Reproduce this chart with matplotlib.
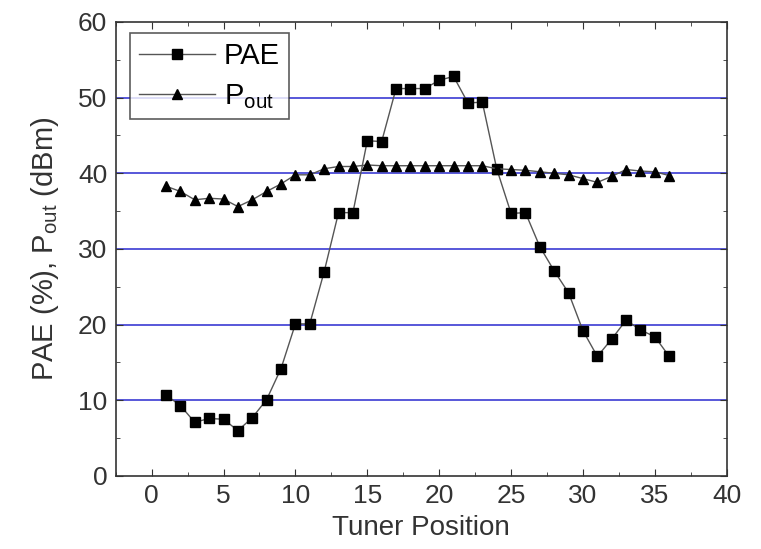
import matplotlib
matplotlib.use("Agg")
import matplotlib.pyplot as plt
from matplotlib.ticker import MultipleLocator

plt.rcParams["font.family"] = ["Liberation Sans", "DejaVu Sans"]
plt.rcParams["mathtext.default"] = "regular"

tuner_pos = list(range(1, 37))
pae = [10.7, 9.3, 7.1, 7.6, 7.5, 6.0, 7.7, 10.1, 14.2, 20.1,
       20.1, 27.0, 34.8, 34.8, 44.3, 44.2, 51.2, 51.2, 51.2, 52.3,
       52.8, 49.3, 49.4, 40.6, 34.7, 34.8, 30.3, 27.1, 24.2, 19.2,
       15.8, 18.1, 20.6, 19.3, 18.4, 15.8]
pout = [38.3, 37.6, 36.5, 36.7, 36.6, 35.6, 36.5, 37.6, 38.6, 39.8,
        39.8, 40.6, 40.9, 40.9, 41.1, 41.0, 41.0, 41.0, 41.0, 41.0,
        41.0, 41.0, 41.0, 40.6, 40.5, 40.4, 40.2, 40.0, 39.8, 39.3,
        38.8, 39.6, 40.5, 40.3, 40.2, 39.7]
grid_levels = [10, 20, 30, 40, 50]

fig = plt.figure(figsize=(7.61, 5.49), dpi=100)
ax = fig.add_axes([0.152, 0.133, 0.803, 0.827])

for g in grid_levels:
    ax.axhline(g, color="#2a2ad0", lw=1.1, zorder=1)

ax.plot(tuner_pos, pae, color="#555555", lw=1.0, marker="s", ms=7,
        mfc="black", mec="black", label="PAE", zorder=3)
ax.plot(tuner_pos, pout, color="#555555", lw=1.0, marker="^", ms=7.5,
        mfc="black", mec="black", label="P$_{out}$", zorder=3)

ax.set_xlim(-2.5, 40)
ax.set_ylim(0, 60)
ax.xaxis.set_major_locator(MultipleLocator(5))
ax.xaxis.set_minor_locator(MultipleLocator(2.5))
ax.yaxis.set_major_locator(MultipleLocator(10))
ax.yaxis.set_minor_locator(MultipleLocator(5))
ax.tick_params(which="both", direction="in", top=True, right=True,
               labelsize=19, color="#333333", labelcolor="#333333", pad=6)
ax.tick_params(which="major", length=5)
ax.tick_params(which="minor", length=3)
for sp in ax.spines.values():
    sp.set_color("#333333")
    sp.set_linewidth(1.2)

ax.set_xlabel("Tuner Position", fontsize=20, color="#333333", labelpad=5)
ax.set_ylabel("PAE (%), P$_{out}$ (dBm)", fontsize=21, color="#333333",
              labelpad=12)

leg = ax.legend(loc="upper left", numpoints=1, fontsize=21, frameon=True,
                fancybox=False, edgecolor="#333333", handlelength=2.6,
                handletextpad=0.3, borderpad=0.3, labelspacing=0.4,
                borderaxespad=0.0, bbox_to_anchor=(0.024, 0.975))
leg.get_frame().set_linewidth(1.2)

fig.savefig("out.png", dpi=100)
